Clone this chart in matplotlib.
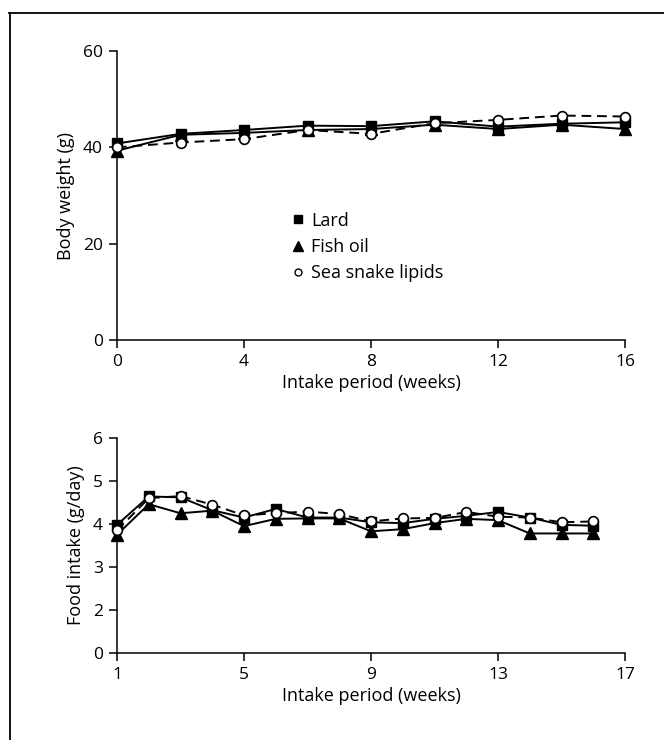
import matplotlib
matplotlib.use("Agg")
import matplotlib.pyplot as plt
from matplotlib.lines import Line2D

plt.rcParams['font.family'] = ['Open Sans', 'DejaVu Sans']

# Top panel: body weight
bw_weeks = [0, 2, 4, 6, 8, 10, 12, 14, 16]
bw_lard = [40.8, 42.8, 43.6, 44.5, 44.4, 45.4, 44.3, 44.9, 45.2]
bw_fish = [39.3, 42.6, 43.0, 43.6, 43.8, 44.7, 43.8, 44.7, 43.8]
bw_snake = [40.0, 41.0, 41.7, 43.6, 42.8, 45.0, 45.7, 46.6, 46.4]
bw_yticks = [0, 20, 40, 60]
bw_xticks = [0, 4, 8, 12, 16]

# Bottom panel: food intake
fi_weeks = list(range(1, 17))
fi_lard = [3.98, 4.64, 4.62, 4.32, 4.15, 4.35, 4.15, 4.15, 4.04, 4.02, 4.12, 4.19, 4.28, 4.15, 3.98, 3.96]
fi_fish = [3.75, 4.46, 4.25, 4.31, 3.95, 4.12, 4.13, 4.13, 3.83, 3.88, 4.02, 4.12, 4.09, 3.78, 3.78, 3.78]
fi_snake = [3.85, 4.60, 4.65, 4.45, 4.20, 4.25, 4.29, 4.23, 4.06, 4.13, 4.14, 4.28, 4.17, 4.15, 4.04, 4.06]
fi_ytick_pos = [1, 2, 3, 4, 5, 6]
fi_ytick_labels = ['0', '2', '3', '4', '5', '6']
fi_xticks = [1, 5, 9, 13, 17]

labels = ['Lard', 'Fish oil', 'Sea snake lipids']

W, H = 664, 740
fig = plt.figure(figsize=(W / 100, H / 100), dpi=100)

def fx(px):
    return px / W

def fy(py):
    return 1 - py / H

ax1 = fig.add_axes([fx(117), fy(340), fx(625) - fx(117), fy(51) - fy(340)])
ax2 = fig.add_axes([fx(117), fy(653), fx(625) - fx(117), fy(438) - fy(653)])

lw = 1.4
ms = 7
def draw(ax, x, lard, fish, snake):
    ax.plot(x, fish, ls='-', color='black', lw=lw, marker='^', ms=ms + 1,
            mfc='black', mec='black', zorder=3, clip_on=False)
    ax.plot(x, lard, ls='-', color='black', lw=lw, marker='s', ms=ms - 0.5,
            mfc='black', mec='black', zorder=4, clip_on=False)
    ax.plot(x, snake, ls=(0, (5, 3)), color='black', lw=lw, marker='o', ms=ms,
            mfc='white', mec='black', mew=1.2, zorder=5, clip_on=False)

draw(ax1, bw_weeks, bw_lard, bw_fish, bw_snake)
draw(ax2, fi_weeks, fi_lard, fi_fish, fi_snake)

fs_tick = 12.5
fs_lab = 13
for ax in (ax1, ax2):
    for s in ('top', 'right'):
        ax.spines[s].set_visible(False)
    for s in ('left', 'bottom'):
        ax.spines[s].set_linewidth(1.1)
    ax.tick_params(direction='out', length=6, width=1.1, labelsize=fs_tick, pad=4)
    ax.set_xlabel('Intake period (weeks)', fontsize=fs_lab, labelpad=3)

ax1.set_xlim(0, 16)
ax1.set_ylim(0, 60)
ax1.set_xticks(bw_xticks)
ax1.set_yticks(bw_yticks)
ax1.set_ylabel('Body weight (g)', fontsize=fs_lab, labelpad=6)

ax2.set_xlim(1, 17)
ax2.set_ylim(1, 6)
ax2.set_xticks(fi_xticks)
ax2.set_yticks(fi_ytick_pos)
ax2.set_yticklabels(fi_ytick_labels)
ax2.set_ylabel('Food intake (g/day)', fontsize=fs_lab, labelpad=6)

handles = [
    Line2D([], [], ls='none', marker='s', ms=6, mfc='black', mec='black'),
    Line2D([], [], ls='none', marker='^', ms=7, mfc='black', mec='black'),
    Line2D([], [], ls='none', marker='o', ms=5, mfc='white', mec='black'),
]
ax1.legend(handles, labels, loc='upper left', bbox_to_anchor=(0.31, 0.50),
           frameon=False, fontsize=fs_lab, handlelength=0.8, handletextpad=0.35,
           labelspacing=0.45)

fig.add_artist(Line2D([fx(9), 1], [fy(13), fy(13)], color='black', lw=1.3))
fig.add_artist(Line2D([fx(10), fx(10)], [fy(13), 0], color='black', lw=1.3))

fig.savefig('out.png', dpi=100)
